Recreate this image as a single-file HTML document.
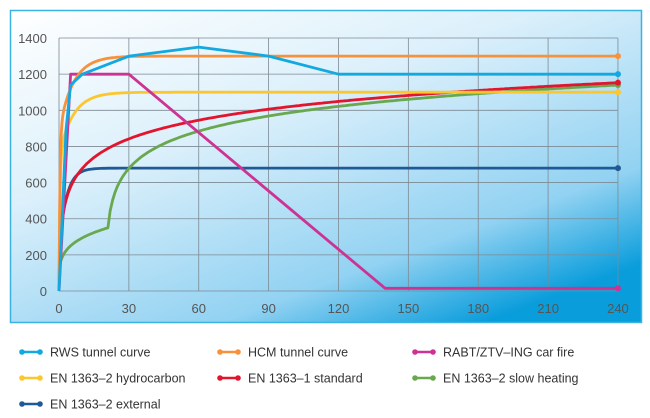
<!DOCTYPE html>
<html><head><meta charset="utf-8"><style>
body{margin:0;background:#fff;width:650px;height:418px;overflow:hidden;font-family:"Liberation Sans",sans-serif}
svg{position:absolute;left:0;top:0}
</style></head><body>
<svg id="s" width="650" height="418" xmlns="http://www.w3.org/2000/svg">
<defs><linearGradient id="g" x1="0" y1="0" x2="0.75" y2="1">
<stop offset="0" stop-color="#ffffff"/><stop offset="0.4" stop-color="#dcf0fb"/><stop offset="0.8" stop-color="#92d2f2"/><stop offset="1" stop-color="#0a9ddc"/></linearGradient></defs>
<rect x="10.5" y="10.5" width="631" height="312" fill="url(#g)" stroke="#39b3e2" stroke-width="1.5"/>
<g id="grid" stroke="#7d8a94" stroke-width="0.8" fill="none"></g>
<g id="lab" fill="#555" font-size="13"></g>
<g id="ser" fill="none" stroke-width="2.8" stroke-linejoin="round"></g>
<g id="leg" font-size="12.5" fill="#333"></g>
</svg>
<script>
const X=t=>59+t*2.329,Y=v=>291-v*0.1807,NS="http://www.w3.org/2000/svg";
function el(p,n,a,txt){const e=document.createElementNS(NS,n);for(const k in a)e.setAttribute(k,a[k]);if(txt!==undefined)e.textContent=txt;document.getElementById(p).appendChild(e);return e;}
for(let i=0;i<=8;i++){el('grid','line',{x1:X(i*30),x2:X(i*30),y1:Y(1400),y2:Y(0)});el('lab','text',{x:X(i*30),y:313,'text-anchor':'middle'},i*30);}
for(let v=0;v<=1400;v+=200){el('grid','line',{x1:X(0),x2:X(240),y1:Y(v),y2:Y(v)});el('lab','text',{x:47,y:Y(v)+5,'text-anchor':'end'},v);}
function fn(f,t0=0){let p=[];for(let t=t0;t<=240;t+=(t<10?0.25:1))p.push([t,f(t)]);return p;}
const hc=t=>1080*(1-0.325*Math.exp(-0.167*t)-0.675*Math.exp(-2.5*t))+20;
const S={
ext:['#1f5a96',fn(t=>660*(1-0.687*Math.exp(-0.32*t)-0.313*Math.exp(-3.8*t))+20)],
slow:['#6aa84f',fn(t=>t<=21?154*Math.pow(t,0.25)+20:345*Math.log10(8*(t-20)+1)+20)],
std:['#e3142d',fn(t=>345*Math.log10(8*t+1)+20)],
hc:['#fcc72e',fn(hc)],
rabt:['#cc3393',[[0,0],[5,1200],[30,1200],[140,15],[240,15]]],
hcm:['#f7923a',fn(t=>hc(t)*1300/1100)],
rws:['#12a8e0',[[0,0],[3,890],[5,1140],[10,1200],[30,1300],[60,1350],[90,1300],[120,1200],[240,1200]]]};
for(const k of ['ext','slow','std','hc','rabt','hcm','rws']){const [c,p]=S[k];
el('ser','polyline',{stroke:c,points:p.map(q=>X(q[0]).toFixed(1)+','+Y(q[1]).toFixed(1)).join(' ')});
const l=p[p.length-1];el('ser','circle',{cx:X(l[0]),cy:Y(l[1]),r:3,fill:c,stroke:'none'});}
const L=[['RWS tunnel curve','#12a8e0',20,352],['HCM tunnel curve','#f7923a',218,352],['RABT/ZTV–ING car fire','#cc3393',413,352],
['EN 1363–2 hydrocarbon','#fcc72e',20,378],['EN 1363–1 standard','#e3142d',218,378],['EN 1363–2 slow heating','#6aa84f',413,378],['EN 1363–2 external','#1f5a96',20,404]];
for(const [t,c,x,y] of L){el('leg','line',{x1:x,x2:x+22,y1:y,y2:y,stroke:c,'stroke-width':2.5});
el('leg','circle',{cx:x+2,cy:y,r:2.8,fill:c});el('leg','circle',{cx:x+20,cy:y,r:2.8,fill:c});
el('leg','text',{x:x+30,y:y+4.5},t);}
</script>
</body></html>
